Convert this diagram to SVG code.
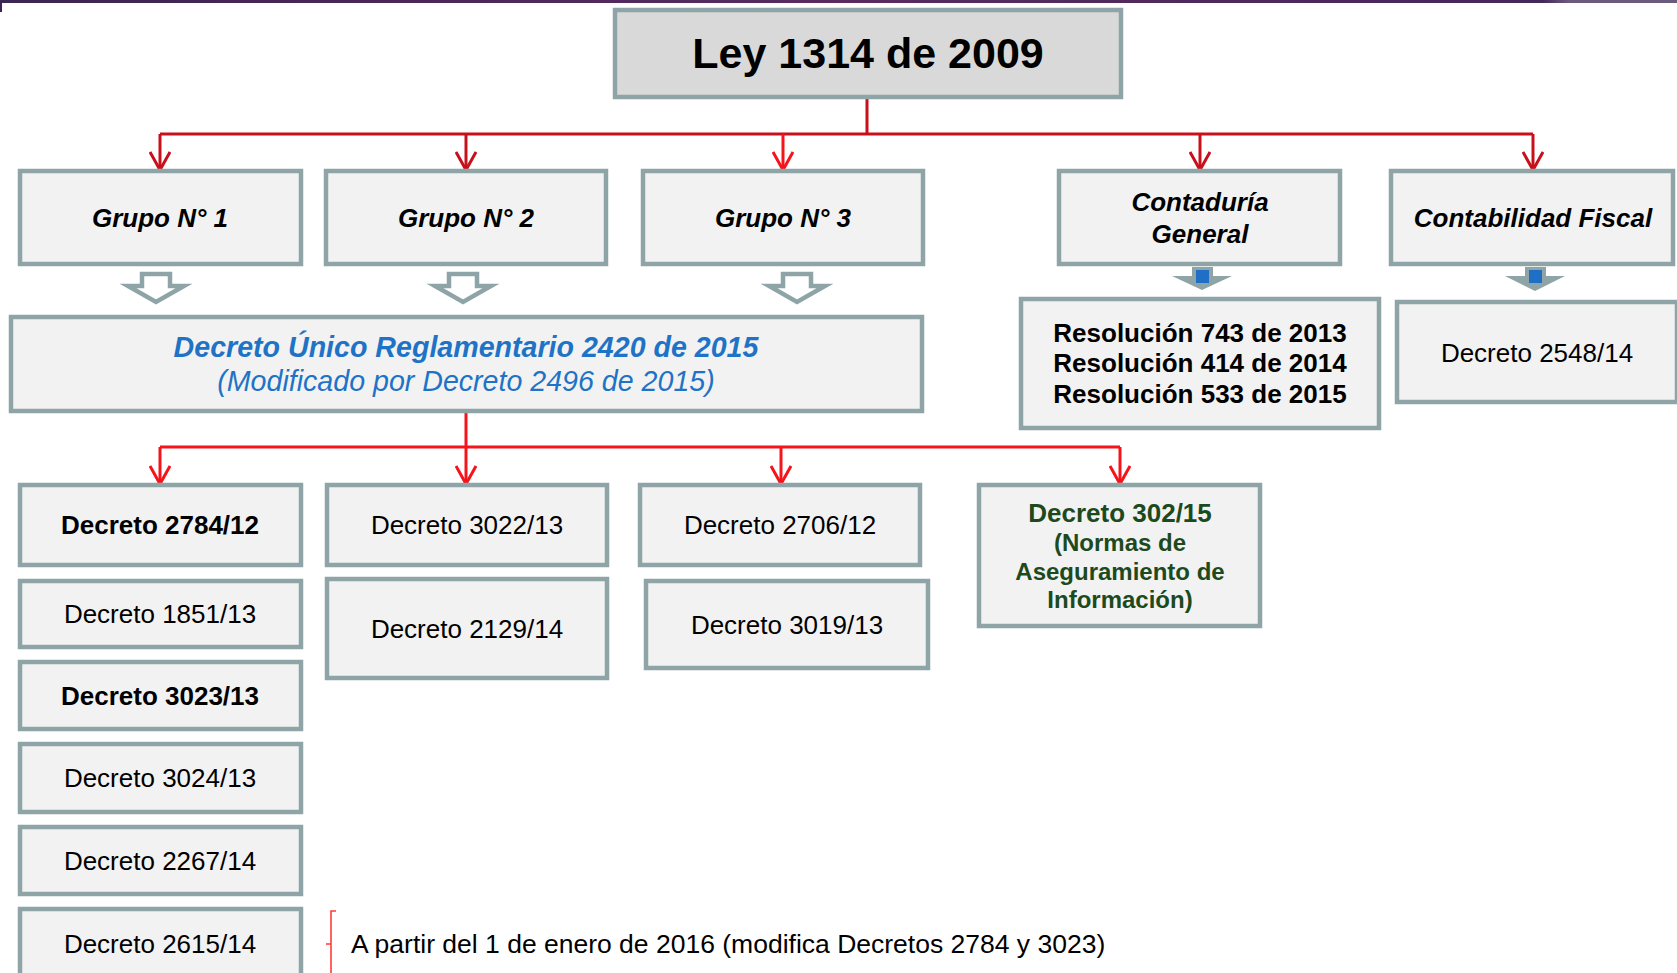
<svg xmlns="http://www.w3.org/2000/svg" width="1677" height="973" viewBox="0 0 1677 973">
<defs>
<linearGradient id="topbar" x1="0" y1="0" x2="1" y2="0">
<stop offset="0" stop-color="#3b2552"/>
<stop offset="0.5" stop-color="#5a2b60"/>
<stop offset="0.92" stop-color="#45285a"/>
<stop offset="0.935" stop-color="#6b5a7c"/>
<stop offset="1" stop-color="#6b5a7c"/>
</linearGradient>
<marker id="arrDark" viewBox="0 0 20 22" refX="19" refY="11" markerWidth="20" markerHeight="22" markerUnits="userSpaceOnUse" orient="auto">
<path d="M1,1 L19,11 L1,21" fill="none" stroke="#c8101a" stroke-width="3"/>
</marker>
<marker id="arrRed" viewBox="0 0 20 22" refX="19" refY="11" markerWidth="20" markerHeight="22" markerUnits="userSpaceOnUse" orient="auto">
<path d="M1,1 L19,11 L1,21" fill="none" stroke="#f5141c" stroke-width="3"/>
</marker>
</defs>
<style>
.box{fill:#f2f2f2;stroke:#8ea4a7;stroke-width:4.5}
.ley{fill:#d9d9d9;stroke:#8ea4a7;stroke-width:4.5}
.t{font-family:"Liberation Sans",Arial,sans-serif;fill:#000;text-anchor:middle}
.r26{font-size:26px}
.b26{font-size:26px;font-weight:bold}
.bi26{font-size:26px;font-weight:bold;font-style:italic}
.blue{fill:#1f73c6;font-size:28.6px;font-style:italic}
.green{fill:#1d4a1d;font-weight:bold}
.cd{fill:none;stroke:#c8101a;stroke-width:3}
.cr{fill:none;stroke:#f5141c;stroke-width:3}
.hollow{fill:#fff;stroke:#8ea4a7;stroke-width:4.5;stroke-linejoin:miter}
.solid{fill:#8ea4a7}
</style>

<rect x="0" y="0" width="1677" height="3" fill="url(#topbar)"/>
<rect x="0" y="0" width="2" height="12" fill="#3b2552"/>

<g id="connectors">
<path class="cd" d="M867,97 V134 M160,134 H1533"/>
<line class="cd" x1="160" y1="134" x2="160" y2="170" marker-end="url(#arrDark)"/>
<line class="cd" x1="466" y1="134" x2="466" y2="170" marker-end="url(#arrDark)"/>
<line class="cr" x1="783" y1="134" x2="783" y2="170" marker-end="url(#arrRed)"/>
<line class="cd" x1="1200" y1="134" x2="1200" y2="170" marker-end="url(#arrDark)"/>
<line class="cd" x1="1533" y1="134" x2="1533" y2="170" marker-end="url(#arrDark)"/>
<path class="cr" d="M466,411 V447 M160,447 H1120"/>
<line class="cr" x1="160" y1="447" x2="160" y2="484" marker-end="url(#arrRed)"/>
<line class="cr" x1="466" y1="447" x2="466" y2="484" marker-end="url(#arrRed)"/>
<line class="cr" x1="781" y1="447" x2="781" y2="484" marker-end="url(#arrRed)"/>
<line class="cr" x1="1120" y1="447" x2="1120" y2="484" marker-end="url(#arrRed)"/>
<path class="hollow" d="M142,274 H170 V286 H184 L156,302 L128,286 H142 Z"/>
<path class="hollow" d="M449,274 H477 V286 H491 L463,302 L435,286 H449 Z"/>
<path class="hollow" d="M783,274 H811 V286 H825 L797,302 L769,286 H783 Z"/>
<path class="solid" d="M1192,267 H1213 V276 H1232 L1202,290 L1172,276 H1192 Z"/>
<rect x="1196" y="270" width="13" height="13" fill="#1f6fc6"/>
<path class="solid" d="M1525,267 H1546 V276 H1565 L1535,291 L1505,276 H1525 Z"/>
<rect x="1529" y="270" width="13" height="13" fill="#1f6fc6"/>
<path d="M336,911 H331 V944 H326 M331,944 V973" fill="none" stroke="#ff3b3b" stroke-width="1.6"/>
</g>

<g id="ley"><rect class="ley" x="615" y="10" width="506" height="87"/><text class="t" x="868" y="68" font-size="43" font-weight="bold">Ley 1314 de 2009</text></g>

<g id="grupo1"><rect class="box" x="20" y="171" width="281" height="93"/><text class="t bi26" x="160" y="227">Grupo N° 1</text></g>
<g id="grupo2"><rect class="box" x="326" y="171" width="280" height="93"/><text class="t bi26" x="466" y="227">Grupo N° 2</text></g>
<g id="grupo3"><rect class="box" x="643" y="171" width="280" height="93"/><text class="t bi26" x="783" y="227">Grupo N° 3</text></g>
<g id="contaduria"><rect class="box" x="1059" y="171" width="281" height="93"/><text class="t bi26" x="1200" y="211">Contaduría</text><text class="t bi26" x="1200" y="243">General</text></g>
<g id="contabilidad"><rect class="box" x="1391" y="171" width="282" height="93"/><text class="t bi26" x="1533" y="227">Contabilidad Fiscal</text></g>

<g id="decretounico"><rect class="box" x="11" y="317" width="911" height="94"/><text class="t blue" x="466" y="357" font-weight="bold">Decreto Único Reglamentario 2420 de 2015</text><text class="t blue" x="466" y="391">(Modificado por Decreto 2496 de 2015)</text></g>
<g id="resoluciones"><rect class="box" x="1021" y="299" width="358" height="129"/><text class="t b26" x="1200" y="342">Resolución 743 de 2013</text><text class="t b26" x="1200" y="372">Resolución 414 de 2014</text><text class="t b26" x="1200" y="403">Resolución 533 de 2015</text></g>
<g id="d2548"><rect class="box" x="1397" y="302" width="280" height="100"/><text class="t r26" x="1537" y="362">Decreto 2548/14</text></g>

<g id="d2784"><rect class="box" x="20" y="485" width="281" height="80"/><text class="t b26" x="160" y="534">Decreto 2784/12</text></g>
<g id="d3022"><rect class="box" x="327" y="485" width="280" height="80"/><text class="t r26" x="467" y="534">Decreto 3022/13</text></g>
<g id="d2706"><rect class="box" x="640" y="485" width="280" height="80"/><text class="t r26" x="780" y="534">Decreto 2706/12</text></g>
<g id="d302"><rect class="box" x="979" y="485" width="281" height="141"/><text class="t green" x="1120" y="522" font-size="26">Decreto 302/15</text><text class="t green" x="1120" y="551" font-size="24">(Normas de</text><text class="t green" x="1120" y="580" font-size="24">Aseguramiento de</text><text class="t green" x="1120" y="608" font-size="24">Información)</text></g>

<g id="d1851"><rect class="box" x="20" y="581" width="281" height="66"/><text class="t r26" x="160" y="623">Decreto 1851/13</text></g>
<g id="d2129"><rect class="box" x="327" y="579" width="280" height="99"/><text class="t r26" x="467" y="638">Decreto 2129/14</text></g>
<g id="d3019"><rect class="box" x="646" y="581" width="282" height="87"/><text class="t r26" x="787" y="634">Decreto 3019/13</text></g>
<g id="d3023"><rect class="box" x="20" y="662" width="281" height="67"/><text class="t b26" x="160" y="705">Decreto 3023/13</text></g>
<g id="d3024"><rect class="box" x="20" y="744" width="281" height="68"/><text class="t r26" x="160" y="787">Decreto 3024/13</text></g>
<g id="d2267"><rect class="box" x="20" y="827" width="281" height="67"/><text class="t r26" x="160" y="870">Decreto 2267/14</text></g>
<g id="d2615"><rect class="box" x="20" y="909" width="281" height="90"/><text class="t r26" x="160" y="953">Decreto 2615/14</text></g>

<g id="nota"><text x="351" y="953" font-family="'Liberation Sans',Arial,sans-serif" font-size="26.5" fill="#000">A partir del 1 de enero de 2016 (modifica Decretos 2784 y 3023)</text></g>
</svg>
